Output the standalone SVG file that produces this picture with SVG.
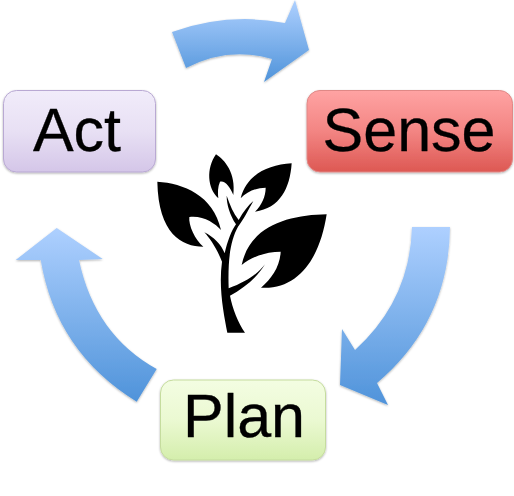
<svg xmlns="http://www.w3.org/2000/svg" width="514" height="496" viewBox="0 0 514 496">
<defs>
<linearGradient id="ga" x1="0" y1="0" x2="0" y2="1"><stop offset="0" stop-color="#f1ecfa"/><stop offset="0.5" stop-color="#e8e0f4"/><stop offset="1" stop-color="#d4c6e8"/></linearGradient>
<linearGradient id="gs" x1="0" y1="0" x2="0" y2="1"><stop offset="0" stop-color="#ffa3a3"/><stop offset="0.5" stop-color="#f38583"/><stop offset="1" stop-color="#dd5853"/></linearGradient>
<linearGradient id="gp" x1="0" y1="0" x2="0" y2="1"><stop offset="0" stop-color="#f3fde2"/><stop offset="0.5" stop-color="#ebf9d2"/><stop offset="1" stop-color="#d4eeac"/></linearGradient>
<linearGradient id="gb" x1="0" y1="0" x2="0" y2="1"><stop offset="0" stop-color="#aed0ff"/><stop offset="0.5" stop-color="#7fb2ec"/><stop offset="1" stop-color="#4f93da"/></linearGradient>
<filter id="sh" x="-10%" y="-10%" width="120%" height="125%"><feDropShadow dx="0" dy="1" stdDeviation="0.8" flood-color="#000" flood-opacity="0.3"/></filter>
</defs>
<style>
.box{stroke-width:1;filter:url(#sh)}
.lbl{font-family:"Liberation Sans",Arial,sans-serif;font-size:61px;fill:#000;stroke:#000;stroke-width:0.3;text-anchor:middle}
.arr{fill:url(#gb);filter:url(#sh)}
</style>
<g id="connectors">
<path class="arr" d="M172 32Q228 12 285 23L295 0L309 50L264 82L272 59Q228 46 186 68Z"/>
<path class="arr" d="M412 227L450 227Q449 322 377 383L388 405L340 385L342 329L355 350Q410 300 412 227Z"/>
<path class="arr" d="M136.700 401.700Q56 352 40.700 260L15.700 260L56.700 228L102.700 259L79 260Q95 335 156.700 369Z"/>
</g>
<g id="act">
<rect class="box" x="3.500" y="90.500" width="152" height="81.500" rx="13" fill="url(#ga)" stroke="#b9a9d3"/>
<text class="lbl" x="77" y="151">Act</text>
</g>
<g id="sense">
<rect class="box" x="307" y="90.500" width="205.500" height="81.500" rx="13" fill="url(#gs)" stroke="#e08886"/>
<text class="lbl" x="409" y="151">Sense</text>
</g>
<g id="plan">
<rect class="box" x="160.500" y="380" width="165" height="80" rx="13" fill="url(#gp)" stroke="#c5dc9e"/>
<text class="lbl" x="244" y="437">Plan</text>
</g>
<g id="plant" transform="translate(150 145) scale(0.33333)" fill="#000">
<path d="M22 110C100 115 190 150 213 255C195 235 160 211 118 216C115 240 135 285 160 305C95 305 25 265 22 110Z"/>
<path d="M198 28C225 45 258 85 250 150C240 125 225 106 210 110C203 125 203 145 205 160C172 130 168 70 198 28Z"/>
<path d="M425 55C350 60 290 90 272 160C290 140 320 128 347 128C347 155 335 180 315 200C390 190 420 130 425 55Z"/>
<path d="M530 208C420 210 300 240 275 360C305 335 350 320 392 320C390 365 365 400 333 428C445 435 510 340 530 208Z"/>
<path d="M232 563C222 510 205 430 216 350C200 310 180 280 163 262C190 275 215 300 224 325C232 290 245 255 258 238C240 210 230 180 230 152C240 180 250 205 266 225C280 200 295 180 310 168C295 195 280 225 264 245C242 285 233 340 236 430C290 410 325 385 345 358C320 400 280 430 240 452C247 490 265 535 285 563Z"/>
</g>
</svg>
